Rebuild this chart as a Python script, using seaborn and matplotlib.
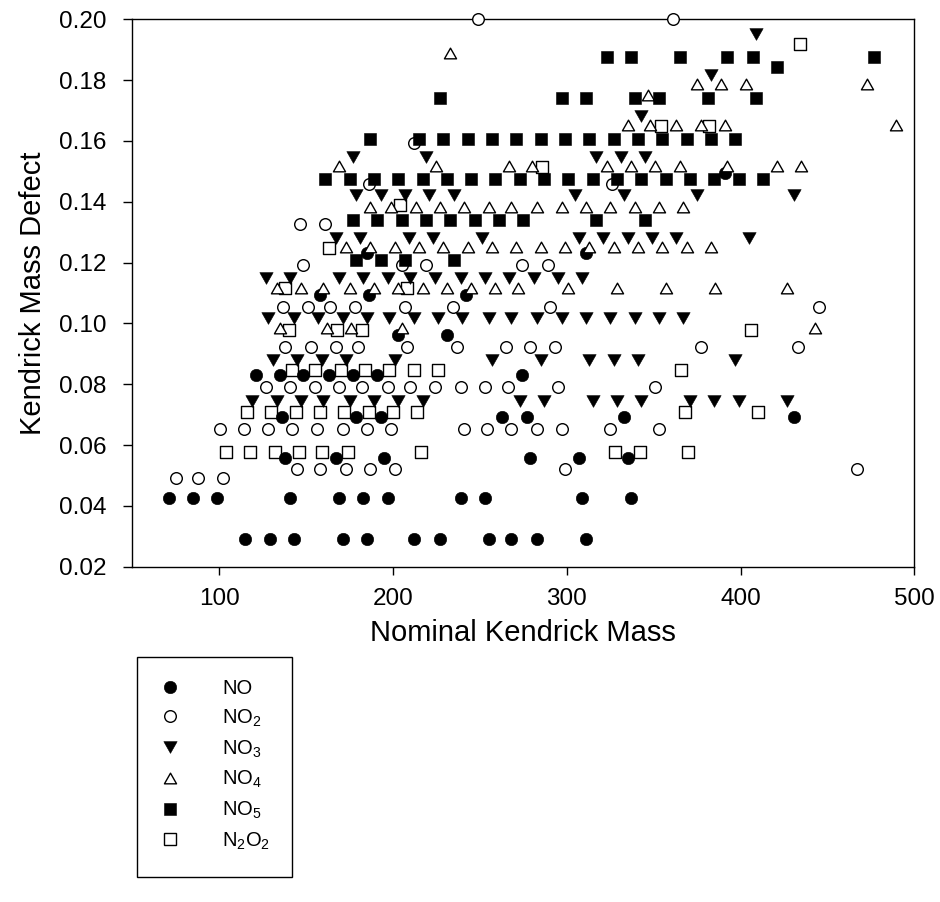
import matplotlib
matplotlib.use("Agg")
import matplotlib.pyplot as plt
import seaborn as sns
import pandas as pd
from matplotlib.lines import Line2D
from matplotlib.patches import Rectangle
from matplotlib.path import Path

sns.set_theme(style="white")
plt.rcParams['font.family'] = ['Liberation Sans', 'DejaVu Sans']
plt.rcParams['mathtext.fontset'] = 'custom'
plt.rcParams['mathtext.rm'] = 'Liberation Sans'
plt.rcParams['mathtext.it'] = 'Liberation Sans:italic'
plt.rcParams['text.color'] = 'black'
plt.rcParams['axes.labelcolor'] = 'black'
plt.rcParams['xtick.color'] = 'black'
plt.rcParams['ytick.color'] = 'black'

# ---------------- data ----------------
# NO (filled circles)
no_kmd = [0.1495, 0.123, 0.1093, 0.0962, 0.083, 0.0693, 0.0558, 0.0425, 0.0291]
no_mass = [[391], [185, 311], [158, 186, 242], [203, 231],
           [121, 135, 148, 163, 177, 191, 274],
           [136, 179, 193, 263, 277, 333, 431],
           [138, 167, 195, 279, 307, 335],
           [71, 85, 99, 141, 169, 183, 197, 239, 253, 309, 337],
           [115, 129, 143, 171, 185, 212, 227, 255, 268, 283, 311]]

# NO2 (open circles)
no2_kmd = [0.2, 0.1594, 0.146, 0.1326, 0.1192, 0.1055, 0.0923, 0.0792, 0.0653, 0.052, 0.0491]
no2_mass = [[249, 361], [212], [186, 326], [146.5, 161],
            [148, 205, 219, 274, 289],
            [137, 151, 164, 178, 207, 234.5, 290.5, 445],
            [138, 153, 167, 180, 208, 237, 265, 279, 293, 377, 433],
            [127, 141, 155, 169, 182, 197, 210, 224, 239, 253, 266, 295, 351],
            [100.5, 114.5, 128, 142, 156, 171, 185, 199, 241, 254, 268, 283, 297, 325, 353],
            [145, 158, 173, 187, 201, 299, 467],
            [75, 88, 102]]

# NO3 (filled down triangles)
no3_kmd = [0.1952, 0.1817, 0.1682, 0.1548, 0.1422, 0.128, 0.1148, 0.1017, 0.088, 0.0745]
no3_mass = [[409], [383], [343], [177, 219, 317, 331, 345],
            [179, 193, 207, 221, 235, 305, 333, 375, 431],
            [167, 181, 209, 223, 251, 307, 321, 335, 349, 363, 405],
            [127, 141, 169, 183, 197, 210, 224, 239, 253, 267, 281, 295, 309],
            [128, 143, 157, 171, 185, 198, 212, 226, 240, 255, 268, 283, 297, 311, 325, 339, 353, 367],
            [131, 145, 159, 173, 201, 257, 285, 313, 327, 341, 397],
            [119, 133, 147, 160, 175, 189, 203, 217, 273, 287, 315, 329, 343, 371, 385, 399, 427]]

# NO4 (open up triangles)
no4_kmd = [0.1888, 0.1787, 0.1751, 0.1652, 0.1519, 0.1384, 0.125, 0.1115, 0.0984]
no4_mass = [[233], [375, 389, 403, 473], [347],
            [335, 348, 363, 377, 391, 489.5],
            [169, 225, 267, 280, 323, 337, 351, 365, 392, 421, 435],
            [187, 199, 213, 227, 241, 255, 268, 283, 297, 311, 325, 339, 353, 367],
            [173, 187, 201, 215, 229, 243, 257, 271, 285, 299, 313, 327, 341, 355, 369, 383],
            [133, 147, 160, 175, 189, 203, 217, 231, 245, 259, 272, 301, 329, 357, 385.5, 427],
            [135, 162, 176, 205, 443]]

# NO5 (filled squares)
no5_kmd = [0.1877, 0.1842, 0.1742, 0.1608, 0.1474, 0.134, 0.1209]
no5_mass = [[323, 337, 365, 392, 407, 477], [421],
            [227, 297, 311, 339, 353, 381, 409],
            [187, 215, 229, 243, 257, 271, 285, 299, 313, 327, 341, 355, 369, 383, 397],
            [161, 175, 189, 203, 217, 231, 245, 259, 273, 287, 301, 315, 329, 343, 357, 371, 385, 399, 413],
            [177, 191, 205, 219, 233, 247, 261, 275, 317, 345],
            [179, 193, 207, 235]]

# N2O2 (open squares)
n2o2_kmd = [0.1918, 0.1649, 0.1515, 0.139, 0.1247, 0.1115, 0.0978, 0.0847, 0.071, 0.0578]
n2o2_mass = [[434], [354, 382], [286], [204], [163], [138, 208],
             [140, 168, 182, 406],
             [142, 155, 170, 184, 198, 212, 226, 366],
             [116, 130, 144, 158, 172, 186, 200, 214, 368, 410],
             [104, 118, 132, 146, 159, 174, 216, 328, 342, 370]]

x_ticks = [100, 200, 300, 400, 500]
y_ticks = [0.02, 0.04, 0.06, 0.08, 0.10, 0.12, 0.14, 0.16, 0.18, 0.20]


def to_frame(name, levels, masses):
    rows = []
    for kmd, ms in zip(levels, masses):
        for m in ms:
            rows.append({"series": name, "mass": m, "kmd": kmd})
    return pd.DataFrame(rows)


df = pd.concat([
    to_frame("NO", no_kmd, no_mass),
    to_frame("NO2", no2_kmd, no2_mass),
    to_frame("NO3", no3_kmd, no3_mass),
    to_frame("NO4", no4_kmd, no4_mass),
    to_frame("NO5", no5_kmd, no5_mass),
    to_frame("N2O2", n2o2_kmd, n2o2_mass),
], ignore_index=True)

# marker shapes
up_tri = Path([(0, 0.88), (-1, -0.88), (1, -0.88), (0, 0.88)],
              [Path.MOVETO, Path.LINETO, Path.LINETO, Path.CLOSEPOLY])
down_tri = Path([(0, -0.88), (-1, 0.88), (1, 0.88), (0, -0.88)],
                [Path.MOVETO, Path.LINETO, Path.LINETO, Path.CLOSEPOLY])

styles = {
    "NO":   dict(marker="o", s=80, fc="black", lw=0.4, label="NO", z=3),
    "NO2":  dict(marker="o", s=70, fc="white", lw=1.0, label=r"NO$_{\mathregular{2}}$", z=4),
    "NO3":  dict(marker=down_tri, s=92, fc="black", lw=0.4, label=r"NO$_{\mathregular{3}}$", z=5),
    "NO4":  dict(marker=up_tri, s=76, fc="white", lw=1.0, label=r"NO$_{\mathregular{4}}$", z=6),
    "NO5":  dict(marker="s", s=86, fc="black", lw=0.4, label=r"NO$_{\mathregular{5}}$", z=7),
    "N2O2": dict(marker="s", s=66, fc="white", lw=1.0, label=r"N$_{\mathregular{2}}$O$_{\mathregular{2}}$", z=2),
}

W, H = 940, 902
fig = plt.figure(figsize=(W / 100, H / 100), dpi=100)
left, right, top, bottom = 132.3, 914.3, 19.3, 566.7
ax = fig.add_axes([left / W, 1 - bottom / H, (right - left) / W, (bottom - top) / H])

for name, st in styles.items():
    sub = df[df["series"] == name]
    sns.scatterplot(data=sub, x="mass", y="kmd", marker=st["marker"], s=st["s"],
                    color=st["fc"], edgecolor="black", linewidth=st["lw"],
                    ax=ax, zorder=st["z"], clip_on=False, legend=False)

ax.set_xlim(50, 500)
ax.set_ylim(0.02, 0.20)
ax.set_xticks(x_ticks)
ax.set_yticks(y_ticks)
ax.set_yticklabels([f"{v:.2f}" for v in y_ticks])
ax.set_xticklabels([str(v) for v in x_ticks])

for sp in ax.spines.values():
    sp.set_color("black")
    sp.set_linewidth(1.0)
    sp.set_visible(True)

ax.tick_params(axis="x", which="major", direction="out", length=6, width=1.0,
               bottom=True, top=False, labelsize=17.5, pad=9, colors="black")
ax.tick_params(axis="y", which="major", direction="out", length=6.5, width=1.0,
               left=True, right=False, labelsize=17.5, pad=12, colors="black")
ax.grid(False)
ax.set_facecolor("white")

ax.set_xlabel("Nominal Kendrick Mass", fontsize=21, labelpad=7, color="black")
ax.set_ylabel("Kendrick Mass Defect", fontsize=21, labelpad=9, color="black")

# legend
handles = []
for name, st in styles.items():
    handles.append(Line2D([], [], linestyle="none", marker=st["marker"],
                          markersize=(st["s"] ** 0.5), markerfacecolor=st["fc"],
                          markeredgecolor="black", markeredgewidth=st["lw"],
                          label=st["label"]))

fs_leg = 14.5
leg = fig.legend(handles=handles, loc="upper left",
                 bbox_to_anchor=(156 / W, 1 - 679 / H), bbox_transform=fig.transFigure,
                 frameon=False, fontsize=fs_leg, borderpad=0, handlelength=1.35,
                 handletextpad=1.95, labelspacing=0.47, borderaxespad=0)
for t in leg.get_texts():
    t.set_color("black")

fig.patches.append(Rectangle((137 / W, 1 - 877 / H), 155 / W, 220 / H,
                             transform=fig.transFigure, fill=False,
                             edgecolor="black", linewidth=1.0))

fig.savefig("out.png", dpi=100, facecolor="white")
